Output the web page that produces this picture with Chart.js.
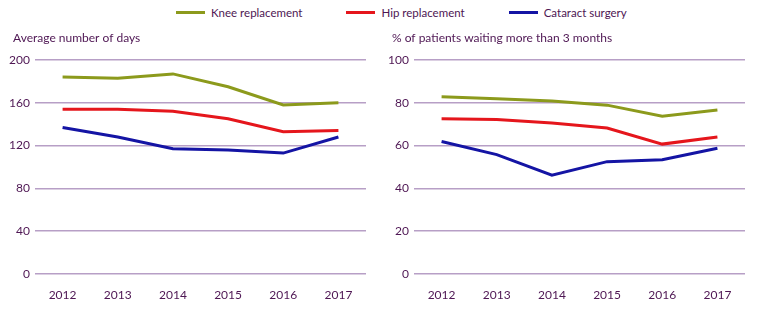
<!DOCTYPE html>
<html>
<head>
<meta charset="utf-8">
<script src="https://cdn.jsdelivr.net/npm/chart.js@4.4.0/dist/chart.umd.min.js"></script>
<style>
    body { margin: 0; background: #fff; font-family: Lato, "Open Sans", sans-serif; }
    #wrap { position: relative; width: 758px; height: 315px; }
    #legend { position: absolute; left: 176px; top: 6px; display: flex; gap: 44px; font-size: 11.5px; color: #4e1653; }
    .item { display: flex; align-items: center; }
    .swatch { width: 29px; height: 3px; margin-right: 6px; }
    canvas { position: absolute; top: 0; }
</style>
</head>
<body>
<div id="wrap">
    <div id="legend"></div>
    <canvas id="leftChart" width="379" height="315" style="left:0"></canvas>
    <canvas id="rightChart" width="379" height="315" style="left:379px"></canvas>
</div>
<script>
/**
 * Waiting times data
 **/
let years = ["2012", "2013", "2014", "2015", "2016", "2017"];
let seriesNames = ["Knee replacement", "Hip replacement", "Cataract surgery"];
let seriesColors = ["#8c9a1c", "#e5161c", "#1414a4"];

// average number of days
let kneeDays = [184, 183, 187, 175, 158, 160];
let hipDays = [154, 154, 152, 145, 133, 134];
let cataractDays = [137, 128, 117, 116, 113, 128];

// % of patients waiting more than 3 months
let kneePct = [82.8, 81.9, 80.8, 78.9, 73.7, 76.6];
let hipPct = [72.5, 72.2, 70.6, 68.2, 60.7, 64];
let cataractPct = [61.9, 55.8, 46.2, 52.5, 53.4, 58.8];

let leftTicks = [0, 40, 80, 120, 160, 200];
let rightTicks = [0, 20, 40, 60, 80, 100];

let purple = "#4e1653";
let gridPurple = "#b79fc6";

// legend
for (let i = 0; i < seriesNames.length; i++) {
    let item = "<div class='item'><div class='swatch' style='background:" + seriesColors[i] + "'></div>" + seriesNames[i] + "</div>";
    document.getElementById("legend").insertAdjacentHTML("beforeend", item);
}

// panel title drawn at a fixed spot above the plot
let panelTitle = {
    id: 'panelTitle',
    afterDraw: function (chart, args, opts) {
        let ctx = chart.ctx;
        ctx.save();
        ctx.fillStyle = purple;
        ctx.font = "12px Lato";
        ctx.textBaseline = "middle";
        ctx.textAlign = "left";
        ctx.fillText(opts.text, 13, 38);
        ctx.restore();
    }
};

function makeChart(id, title, data, ticks) {
    new Chart(document.getElementById(id), {
        type: 'line',
        data: {
            labels: years,
            datasets: data.map(function (d, i) {
                return {
                    label: seriesNames[i],
                    data: d,
                    borderColor: seriesColors[i],
                    borderWidth: 3,
                    pointRadius: 0,
                    fill: false,
                    tension: 0
                };
            })
        },
        options: {
            responsive: false,
            animation: false,
            layout: { padding: { left: 6, right: 13, top: 60, bottom: 11 } },
            plugins: {
                legend: { display: false },
                tooltip: { enabled: false },
                panelTitle: { text: title }
            },
            scales: {
                x: {
                    offset: true,
                    grid: { display: false },
                    border: { display: false },
                    ticks: { color: purple, font: { family: 'Lato', size: 12 }, padding: 6, maxRotation: 0 },
                    afterFit: function (scale) { scale.height = 30; }
                },
                y: {
                    min: ticks[0],
                    max: ticks[ticks.length - 1],
                    afterBuildTicks: function (scale) {
                        scale.ticks = ticks.map(function (v) { return { value: v }; });
                    },
                    grid: { color: gridPurple, lineWidth: 1.5, drawTicks: false },
                    border: { display: false },
                    ticks: { color: purple, font: { family: 'Lato', size: 12 }, padding: 5 },
                    afterFit: function (scale) { scale.width = 29; }
                }
            }
        },
        plugins: [panelTitle]
    });
}

makeChart('leftChart', 'Average number of days', [kneeDays, hipDays, cataractDays], leftTicks);
makeChart('rightChart', '% of patients waiting more than 3 months', [kneePct, hipPct, cataractPct], rightTicks);
</script>
</body>
</html>
